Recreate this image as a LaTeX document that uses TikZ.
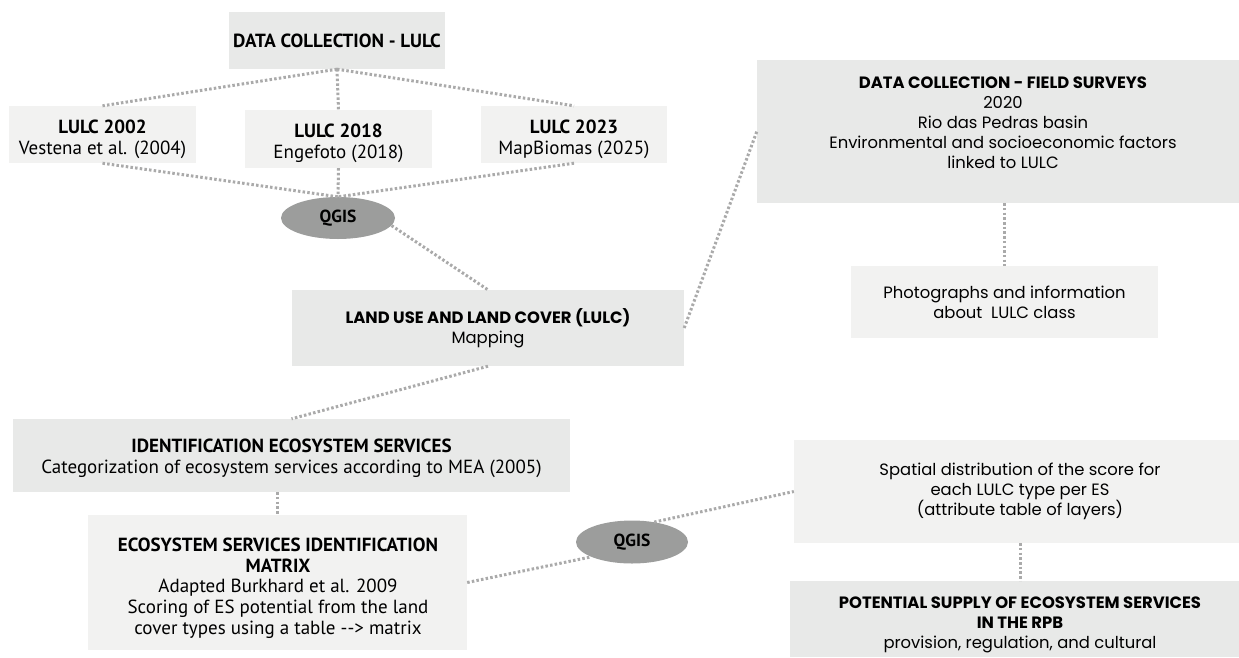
\documentclass[tikz,border=0pt]{standalone}
\usepackage{fontspec}
\setmainfont{Poppins}
\newfontfamily\cond{PT Sans}
\usetikzlibrary{shapes.geometric,calc}
\definecolor{boxdark}{HTML}{E8E9E8}
\definecolor{boxlight}{HTML}{F2F2F1}
\definecolor{ellgray}{HTML}{9C9D9C}
\definecolor{dotgray}{HTML}{AAAAAA}
\tikzset{
  dk/.style={fill=boxdark,draw=none,inner sep=0pt,align=center},
  lt/.style={fill=boxlight,draw=none,inner sep=0pt,align=center},
  ell/.style={ellipse,fill=ellgray,draw=none,inner sep=0pt,font=\cond\fontsize{17.5}{20}\selectfont\bfseries},
  dotline/.style={draw=dotgray,line width=3pt,dash pattern=on 2.5pt off 2.2pt},
  txt/.style={inner sep=0pt,align=center},
  fc/.style={font=\cond\fontsize{19}{20.7}\selectfont},
  fp/.style={font=\fontsize{16.4}{20}\selectfont},
}
\begin{document}
\begin{tikzpicture}[x=1pt,y=-1pt]
\useasboundingbox (0,0) rectangle (1239,657);
% top boxes
\node[dk,fc,minimum width=216pt,minimum height=57pt] (boxA) at (337,40.5) {\bfseries DATA COLLECTION - LULC};
\node[lt,minimum width=187pt,minimum height=57pt] (l02) at (102.5,134.5) {};
\node[txt,fc] (l02t) at (102.5,139) {\bfseries LULC 2002\\Vestena et al. (2004)};
\node[lt,minimum width=187pt,minimum height=58pt] (l18) at (338.5,139) {};
\node[txt,fc] (l18t) at (338.5,143.5) {\bfseries LULC 2018\\Engefoto (2018)};
\node[lt,minimum width=186pt,minimum height=57pt] (l23) at (574,134.5) {};
\node[txt,fc] (l23t) at (574,139) {\bfseries LULC 2023\\MapBiomas (2025)};
\node[ell,minimum width=114pt,minimum height=42pt] (q1) at (338,218) {QGIS};
\node[dk,fp,minimum width=392pt,minimum height=76pt] (lulc) at (488,328) {\bfseries LAND USE AND LAND COVER (LULC)\\Mapping};
% field surveys
\node[dk,minimum width=482pt,minimum height=143pt] (field) at (998,131.5) {};
\node[txt,fp] (fieldtxt) at (1003,123) {\bfseries DATA COLLECTION - FIELD SURVEYS\\2020\\Rio das Pedras basin\\Environmental and socioeconomic factors\\linked to LULC};
\node[lt,fp,minimum width=307pt,minimum height=72pt] (photo) at (1004.5,302) {Photographs and information\\about\ \ LULC class};
% ecosystem services
\node[dk,minimum width=557pt,minimum height=73pt] (ies) at (291.5,455.5) {};
\node[txt,fc] (iestxt) at (291.5,458.5) {\bfseries IDENTIFICATION ECOSYSTEM SERVICES\\Categorization of ecosystem services according to MEA (2005)};
\node[lt,minimum width=379pt,minimum height=135pt] (matrix) at (277.5,582.5) {};
\node[txt,fc] (matrixtxt) at (278,588) {\bfseries ECOSYSTEM SERVICES IDENTIFICATION\\\bfseries MATRIX\\Adapted Burkhard et al. 2009\\Scoring of ES potential from the land\\cover types using a table --{}> matrix};
\node[ell,minimum width=112pt,minimum height=43pt] (q2) at (632,542) {QGIS};
\node[lt,minimum width=445pt,minimum height=103pt] (spatial) at (1016.5,491.5) {};
\node[txt,fp] (spatialtxt) at (1020,491.5) {Spatial distribution of the score for\\each LULC type per ES\\(attribute table of layers)};
\node[dk,minimum width=449pt,minimum height=76pt] (pot) at (1014.5,619) {};
\node[txt,fp] (pottxt) at (1020,625) {\bfseries POTENTIAL SUPPLY OF ECOSYSTEM SERVICES\\\bfseries IN THE RPB\\provision, regulation, and cultural};
% connectors
\draw[dotline] (boxA.south) -- (l02.north);
\draw[dotline] (boxA.south) -- (l18.north);
\draw[dotline] (boxA.south) -- (l23.north);
\draw[dotline] (l02.south) -- (q1.north);
\draw[dotline] (l18.south) -- (q1.north);
\draw[dotline] (l23.south) -- (q1.north);
\draw[dotline] (q1.-8) -- (lulc.north);
\draw[dotline] (lulc.east) -- (field.west);
\draw[dotline] (photo.north |- field.south) -- (photo.north);
\draw[dotline] (lulc.south) -- (ies.north);
\draw[dotline] (matrix.north |- ies.south) -- (matrix.north);
\draw[dotline] (matrix.east) -- (q2.200);
\draw[dotline] (q2.42) -- (spatial.west);
\draw[dotline] ([xshift=3.5pt]spatial.south) -- ([xshift=5.5pt]pot.north);
\end{tikzpicture}
\end{document}
